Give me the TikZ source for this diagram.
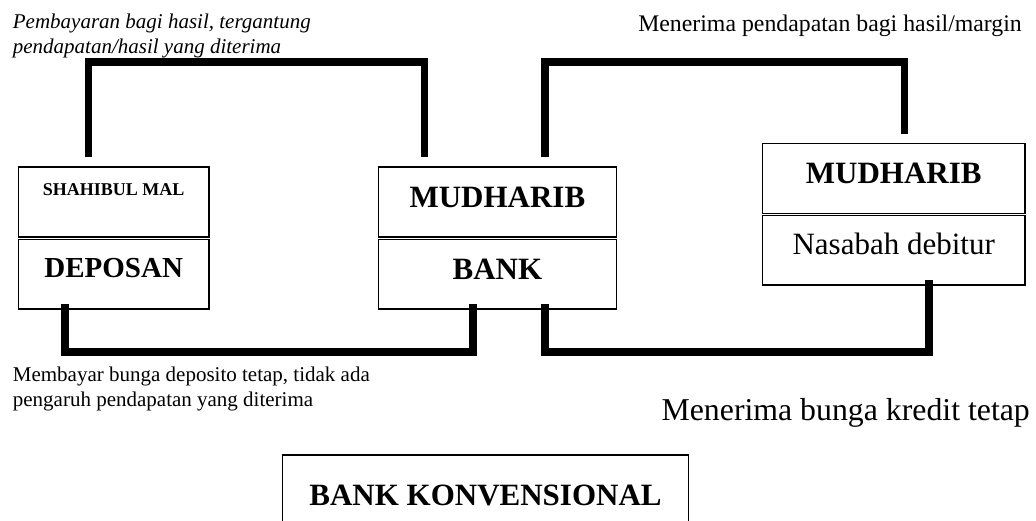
\documentclass[tikz,border=0pt]{standalone}
\usepackage{fontspec}
\setmainfont{Liberation Serif}

\begin{document}
\begin{tikzpicture}[x=1pt,y=-1pt,
  kotak/.style={draw,line width=1.5pt,inner sep=2pt,minimum height=69.7pt,text height=21pt},
  besar/.style={font=\fontsize{31}{37}\selectfont\bfseries},
  ket/.style={inner sep=0pt,align=left,font=\fontsize{21}{25}\selectfont},
  jalur/.style={line width=7.5pt}]
\useasboundingbox (0,0) rectangle (1036,521);
\fill[white] (0,0) rectangle (1036,521);
% deposan
\node[kotak,minimum width=190.7pt,text height=13pt,text depth=25.6pt,font=\fontsize{18}{21}\selectfont\bfseries] (shm) at (113.7,202) {SHAHIBUL MAL};
\node[kotak,minimum width=190.7pt,text height=20pt,text depth=13.8pt,font=\fontsize{29}{35}\selectfont\bfseries] (dep) at (113.7,274.2) {DEPOSAN};
% bank
\node[kotak,besar,minimum width=238.2pt,text depth=10.4pt] (mud1) at (497.4,202) {MUDHARIB};
\node[kotak,besar,minimum width=238.2pt,text depth=9.4pt] (bank) at (497.4,274.2) {BANK};
% debitur
\node[kotak,besar,minimum width=262.7pt,minimum height=70pt,text depth=11pt] (mud2) at (893.7,178.3) {MUDHARIB};
\node[kotak,minimum width=262.7pt,minimum height=69.3pt,text height=22pt,text depth=14.2pt,font=\fontsize{31}{37}\selectfont] (nsb) at (893.7,250.4) {Nasabah debitur};
% bank konvensional, terpotong di bawah
\node[besar,anchor=north,minimum width=405.6pt,inner xsep=0pt,inner ysep=29pt,text height=21pt,text depth=40pt] (bk) at (485.5,455) {BANK KONVENSIONAL};
\draw[line width=1.5pt] (bk.south west) |- (bk.north east) -- (bk.south east);
% jalur atas
\draw[jalur] ([shift={(70.7,-9)}]shm.north west) -- ++(0,-95.3) -| ([shift={(46.7,-9)}]mud1.north west);
\draw[jalur] ([shift={(167.4,-9)}]mud1.north west) -- ++(0,-95.3) -| ([shift={(142.9,-8.3)}]mud2.north west);
% jalur bawah
\draw[jalur] ([shift={(47.2,-5.7)}]dep.south west) -- ++(0,47.7) -| ([shift={(95.4,-5.7)}]bank.south west);
\draw[jalur] ([shift={(167.2,-5.7)}]bank.south west) -- ++(0,47.7) -| ([shift={(167.4,-6)}]nsb.south west);
% keterangan (base = baris terakhir)
\node[ket,anchor=base west,font=\fontsize{21}{25}\selectfont\itshape] (k1) at (12.7,53.3) {Pembayaran bagi hasil, tergantung\\pendapatan/hasil yang diterima};
\node[ket,anchor=base east,font=\fontsize{23.8}{28}\selectfont] (k2) at (1022,31.7) {Menerima pendapatan bagi hasil/margin};
\node[ket,anchor=base west] (k3) at (12.7,406.7) {Membayar bunga deposito tetap, tidak ada\\pengaruh pendapatan yang diterima};
\node[ket,anchor=base east,font=\fontsize{31.8}{37}\selectfont] (k4) at (1030,420) {Menerima bunga kredit tetap};
\end{tikzpicture}
\end{document}
